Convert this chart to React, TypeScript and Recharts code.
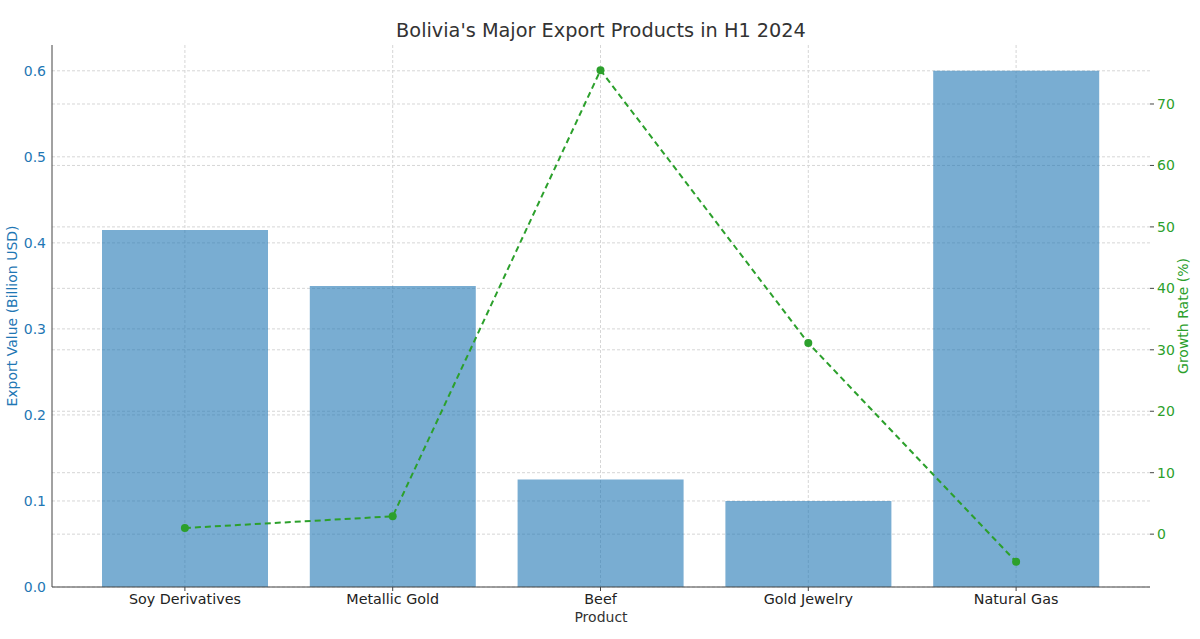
import React from 'react';
import {
  ComposedChart,
  Bar,
  Line,
  XAxis,
  YAxis,
  CartesianGrid,
} from 'recharts';

const products = ['Soy Derivatives', 'Metallic Gold', 'Beef', 'Gold Jewelry', 'Natural Gas'];
const exportValues = [0.415, 0.35, 0.125, 0.1, 0.6];
const growthRates = [1.0, 2.9, 75.5, 31.1, -4.5];
const valueTicks = [0, 0.1, 0.2, 0.3, 0.4, 0.5, 0.6];
const growthTicks = [0, 10, 20, 30, 40, 50, 60, 70];

const BLUE = '#1f77b4';
const GREEN = '#2ca02c';
const GRID = '#d6d6d6';
const FONT = '"DejaVu Sans", sans-serif';

const App: React.FC = () => {
  const data = products.map((product, i) => ({
    product,
    value: exportValues[i],
    growth: growthRates[i],
  }));

  return (
    <div
      style={{
        position: 'absolute',
        left: 0,
        top: 0,
        width: 1200,
        height: 639,
        background: '#fff',
        fontFamily: FONT,
      }}
    >
      <div
        style={{
          position: 'absolute',
          top: 19,
          left: 0,
          width: 1202,
          textAlign: 'center',
          fontSize: 19.3,
          color: '#333',
        }}
      >
        Bolivia's Major Export Products in H1 2024
      </div>
      <div
        style={{
          position: 'absolute',
          top: 609,
          left: 0,
          width: 1202,
          textAlign: 'center',
          fontSize: 14,
          color: '#333',
        }}
      >
        Product
      </div>
      <div
        style={{
          position: 'absolute',
          left: 12,
          top: 316,
          transform: 'translate(-50%, -50%) rotate(-90deg)',
          whiteSpace: 'nowrap',
          fontSize: 14,
          color: BLUE,
        }}
      >
        Export Value (Billion USD)
      </div>
      <div
        style={{
          position: 'absolute',
          left: 1183,
          top: 316,
          transform: 'translate(-50%, -50%) rotate(-90deg)',
          whiteSpace: 'nowrap',
          fontSize: 14,
          color: GREEN,
        }}
      >
        Growth Rate (%)
      </div>
      <ComposedChart
        width={1200}
        height={639}
        data={data}
        margin={{ top: 45, right: 0, bottom: 0, left: 0 }}
        style={{ fontFamily: FONT }}
      >
        <CartesianGrid
          yAxisId='left'
          stroke={GRID}
          strokeDasharray='3 2'
          syncWithTicks
        />
        <CartesianGrid
          yAxisId='right'
          stroke={GRID}
          strokeDasharray='3 2'
          vertical={false}
          syncWithTicks
        />
        <XAxis
          dataKey='product'
          height={52}
          padding={{ left: 29, right: 30 }}
          axisLine={{ stroke: '#444' }}
          tickLine={{ stroke: '#444' }}
          tickSize={4}
          tickMargin={3}
          tick={{ fontSize: 14.3, fill: '#222' }}
        />
        <YAxis
          yAxisId='left'
          width={52}
          domain={[0, 0.63]}
          ticks={valueTicks}
          tickFormatter={(v: number) => v.toFixed(1)}
          axisLine={{ stroke: '#444' }}
          tickLine={false}
          tickSize={6}
          tickMargin={0}
          tick={{ fontSize: 14, fill: BLUE }}
        />
        <YAxis
          yAxisId='right'
          orientation='right'
          width={50}
          domain={[-8.6, 79.6]}
          ticks={growthTicks}
          axisLine={false}
          tickLine={{ stroke: '#444' }}
          tickSize={4}
          tickMargin={3}
          tick={{ fontSize: 14, fill: GREEN }}
        />
        <Bar
          yAxisId='left'
          dataKey='value'
          fill={BLUE}
          fillOpacity={0.6}
          barSize={166}
          isAnimationActive={false}
        />
        <Line
          yAxisId='right'
          dataKey='growth'
          stroke={GREEN}
          strokeWidth={2}
          strokeDasharray='6 4'
          dot={{ r: 4, fill: GREEN, stroke: 'none' }}
          activeDot={false}
          isAnimationActive={false}
        />
      </ComposedChart>
    </div>
  );
};

export default App;
